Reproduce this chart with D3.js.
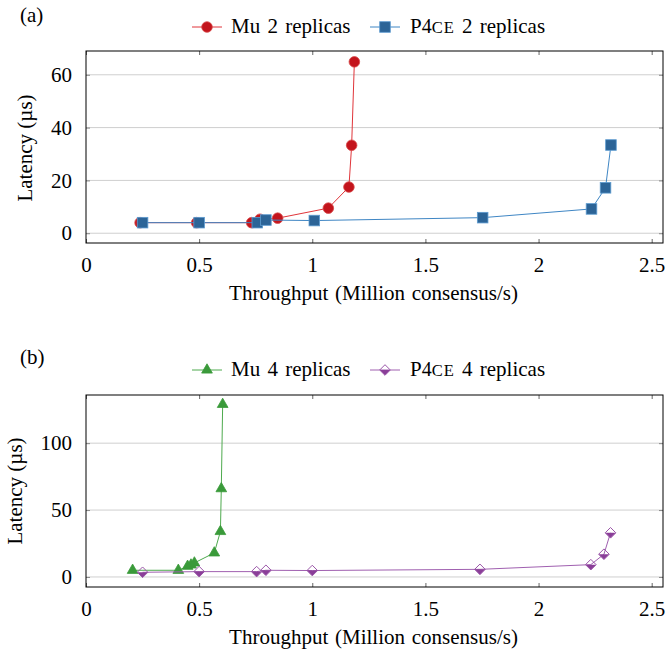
<!DOCTYPE html>
<html>
<head>
<meta charset="utf-8">
<script src="https://cdn.jsdelivr.net/npm/d3@7"></script>
<style>
  body { margin: 0; background: #fff; }
  text { font-family: "Liberation Serif", "Times New Roman", serif; fill: #000; }
</style>
</head>
<body>
<svg id="fig" width="665" height="650" font-family="Liberation Serif"></svg>
<script>
// throughput (Million consensus/s) and latency (us)
var mu2X = [0.239, 0.489, 0.732, 0.769, 0.847, 1.071, 1.162, 1.174, 1.186]
var mu2Y = [4.0, 4.0, 4.0, 5.3, 5.7, 9.5, 17.5, 33.3, 64.9]

var p4ce2X = [0.25, 0.5, 0.757, 0.795, 1.009, 1.753, 2.234, 2.296, 2.32]
var p4ce2Y = [4.0, 4.0, 4.0, 5.0, 4.8, 5.9, 9.2, 17.2, 33.4]

var mu4X = [0.206, 0.408, 0.449, 0.464, 0.479, 0.567, 0.594, 0.598, 0.604]
var mu4Y = [5.0, 5.0, 8.0, 9.0, 10.5, 18.0, 34.0, 66.0, 129.0]

var p4ce4X = [0.25, 0.5, 0.754, 0.795, 1.0, 1.741, 2.231, 2.289, 2.318]
var p4ce4Y = [3.5, 4.0, 4.0, 5.0, 4.8, 5.7, 9.2, 17.0, 33.0]

var xTicks = [0, 0.5, 1, 1.5, 2, 2.5]
var yTicksA = [0, 20, 40, 60]
var yTicksB = [0, 50, 100]

var fontSize = 21
var svg = d3.select("#fig")

function zip(xs, ys) {
  var out = []
  for (var i = 0; i < xs.length; i++) out.push([xs[i], ys[i]])
  return out
}

// draw one marker at (cx, cy)
function drawMarker(g, kind, cx, cy, fill, stroke) {
  if (kind == "circle") {
    g.append("circle").attr("cx", cx).attr("cy", cy).attr("r", 5.3)
      .attr("fill", fill).attr("stroke", stroke).attr("stroke-width", 0.8)
  } else if (kind == "square") {
    g.append("rect").attr("x", cx - 5.3).attr("y", cy - 5.3)
      .attr("width", 10.6).attr("height", 10.6)
      .attr("fill", fill).attr("stroke", stroke).attr("stroke-width", 0.8)
  } else if (kind == "triangle") {
    g.append("path")
      .attr("d", d3.symbol().type(d3.symbolTriangle).size(50)())
      .attr("transform", "translate(" + cx + "," + cy + ")")
      .attr("fill", fill).attr("stroke", stroke).attr("stroke-width", 0.8)
  } else if (kind == "halfdiamond") {
    var r = 5.3
    g.append("path")
      .attr("d", "M" + (cx - r) + "," + cy + "L" + cx + "," + (cy + r) + "L" + (cx + r) + "," + cy + "Z")
      .attr("fill", fill)
    g.append("path")
      .attr("d", "M" + cx + "," + (cy - r) + "L" + (cx + r) + "," + cy + "L" + cx + "," + (cy + r) + "L" + (cx - r) + "," + cy + "Z")
      .attr("fill", "none").attr("stroke", stroke).attr("stroke-width", 1)
  }
}

function legendLabel(g, x, y, parts) {
  var t = g.append("text").attr("x", x).attr("y", y).attr("font-size", fontSize)
    .attr("word-spacing", 2)
  for (var p of parts) {
    var ts = t.append("tspan").text(p[0])
    if (p[1]) ts.attr("font-size", p[1])
    if (p[2]) ts.attr("letter-spacing", p[2])
  }
}

function drawPanel(opts) {
  var left = 86, right = 663
  var top = opts.top, bottom = opts.bottom

  var x = d3.scaleLinear().domain([0, 2.55]).range([left, right])
  var y = d3.scaleLinear().domain(opts.yDomain).range([bottom, top])

  var g = svg.append("g")

  // horizontal grid
  g.selectAll(".grid").data(opts.yTicks).enter().append("line")
    .attr("x1", left).attr("x2", right)
    .attr("y1", function(d) { return y(d) }).attr("y2", function(d) { return y(d) })
    .attr("stroke", "#cfcfcf").attr("stroke-width", 1)

  // inward ticks on all sides
  var xAxisB = d3.axisBottom(x).tickValues(xTicks).tickSizeInner(-4).tickSizeOuter(0).tickPadding(14)
    .tickFormat(d3.format("~g"))
  var xg = g.append("g").attr("transform", "translate(0," + bottom + ")").call(xAxisB)
  xg.attr("font-family", null)
  xg.select(".domain").remove()
  xg.selectAll("line").attr("stroke", "#666")
  xg.selectAll("text").attr("font-size", fontSize).attr("dy", "0.71em")

  var xAxisT = d3.axisTop(x).tickValues(xTicks).tickSizeInner(-4).tickSizeOuter(0).tickFormat("")
  var xt = g.append("g").attr("transform", "translate(0," + top + ")").call(xAxisT)
  xt.select(".domain").remove()
  xt.selectAll("line").attr("stroke", "#666")

  var yAxisL = d3.axisLeft(y).tickValues(opts.yTicks).tickSizeInner(-4).tickSizeOuter(0).tickPadding(14)
  var yl = g.append("g").attr("transform", "translate(" + left + ",0)").call(yAxisL)
  yl.attr("font-family", null)
  yl.select(".domain").remove()
  yl.selectAll("line").attr("stroke", "#888")
  yl.selectAll("text").attr("font-size", fontSize)

  var yAxisR = d3.axisRight(y).tickValues(opts.yTicks).tickSizeInner(-4).tickSizeOuter(0).tickFormat("")
  var yr = g.append("g").attr("transform", "translate(" + right + ",0)").call(yAxisR)
  yr.select(".domain").remove()
  yr.selectAll("line").attr("stroke", "#888")

  // frame
  g.append("rect").attr("x", left).attr("y", top)
    .attr("width", right - left).attr("height", bottom - top)
    .attr("fill", "none").attr("stroke", "#000").attr("stroke-width", 1)

  var line = d3.line().x(function(d) { return x(d[0]) }).y(function(d) { return y(d[1]) })

  for (var s of opts.series) {
    var data = zip(s.xs, s.ys)
    g.append("path").datum(data).attr("d", line)
      .attr("fill", "none").attr("stroke", s.line).attr("stroke-width", 1)
    for (var d of data) {
      drawMarker(g, s.marker, x(d[0]), y(d[1]), s.fill, s.stroke)
    }
  }

  // legend
  var lg = svg.append("g")
  var ly = opts.legendY
  var items = [[192, 231], [370, 410]]
  opts.series.forEach(function(s, i) {
    var x0 = items[i][0]
    lg.append("line").attr("x1", x0).attr("x2", x0 + 30)
      .attr("y1", ly).attr("y2", ly).attr("stroke", s.line).attr("stroke-width", 1)
    drawMarker(lg, s.marker, x0 + 15, ly, s.fill, s.stroke)
    legendLabel(lg, items[i][1], ly + 5.5, s.label)
  })

  // panel tag
  svg.append("text").attr("x", 20).attr("y", opts.tagY).attr("font-size", fontSize).text(opts.tag)

  // axis titles
  svg.append("text").attr("x", (left + right) / 2 - 1).attr("y", bottom + 57)
    .attr("text-anchor", "middle").attr("font-size", fontSize).attr("word-spacing", 1.5)
    .text("Throughput (Million consensus/s)")
  svg.append("text")
    .attr("transform", "translate(" + opts.yTitleX + "," + opts.yTitleC + ") rotate(-90)")
    .attr("text-anchor", "middle").attr("font-size", fontSize)
    .text("Latency (\u00b5s)")
}

drawPanel({
  top: 51, bottom: 243, yDomain: [-3.7, 69], yTicks: yTicksA,
  legendY: 27, tagY: 22, tag: "(a)", yTitleX: 31.5, yTitleC: 148,
  series: [
    { xs: mu2X, ys: mu2Y, marker: "circle", fill: "#c3141c", stroke: "#d84a4a", line: "#e0353a",
      label: [["Mu 2 replicas"]] },
    { xs: p4ce2X, ys: p4ce2Y, marker: "square", fill: "#2c6497", stroke: "#5d9bd0", line: "#3f86c4",
      label: [["P"], ["4", 20], ["CE", 16.5, 1], [" 2 replicas"]] }
  ]
})

drawPanel({
  top: 395, bottom: 587, yDomain: [-7.5, 136], yTicks: yTicksB,
  legendY: 370, tagY: 364, tag: "(b)", yTitleX: 21.5, yTitleC: 491,
  series: [
    { xs: mu4X, ys: mu4Y, marker: "triangle", fill: "#3a9a3a", stroke: "#3a9a3a", line: "#4eaa4e",
      label: [["Mu 4 replicas"]] },
    { xs: p4ce4X, ys: p4ce4Y, marker: "halfdiamond", fill: "#8a3e98", stroke: "#9a55a8", line: "#a060b0",
      label: [["P"], ["4", 20], ["CE", 16.5, 1], [" 4 replicas"]] }
  ]
})
</script>
</body>
</html>
